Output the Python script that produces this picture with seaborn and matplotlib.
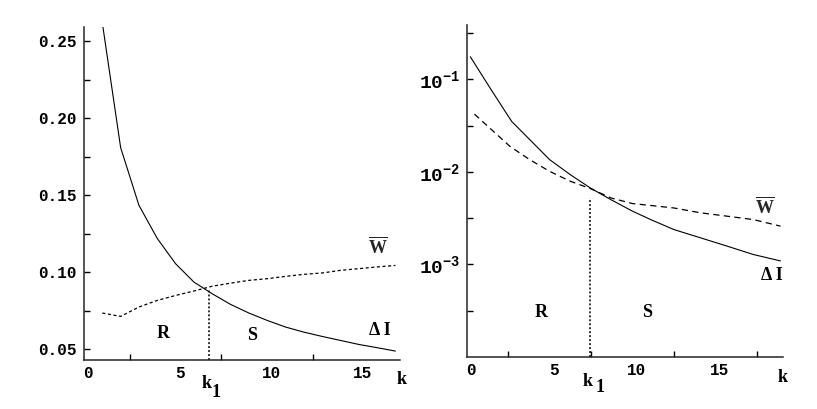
import matplotlib
matplotlib.use("Agg")
from matplotlib import pyplot as plt
from matplotlib.ticker import FixedLocator, NullFormatter
import matplotlib.transforms as mtransforms
import seaborn as sns

# left panel: linear scale
k_left = [1, 2, 3, 4, 5, 6, 7, 8, 9, 10, 11, 12, 13, 14, 15, 16, 17]
dI_left = [0.262, 0.181, 0.1435, 0.122, 0.1056, 0.0937, 0.0861, 0.0792, 0.0736,
           0.0688, 0.0645, 0.0612, 0.0584, 0.0558, 0.0532, 0.0511, 0.0489]
W_left = [0.0736, 0.0714, 0.0775, 0.0818, 0.085, 0.0879, 0.091, 0.093, 0.0948,
          0.0959, 0.0974, 0.0987, 0.0996, 0.1013, 0.1024, 0.1035, 0.1045]
k1_left = 6.85
k1_left_top = 0.089

# right panel: log scale
k_right_dI = [0.2, 1.4, 2.7, 3.8, 5.0, 6.25, 7.45, 8.7, 10.0, 11.1, 12.5, 14.1, 15.7, 17.3, 18.95]
dI_right = [0.175, 0.080, 0.035, 0.0222, 0.0135, 0.0093, 0.0067, 0.0050, 0.00376,
            0.00305, 0.00238, 0.00194, 0.00158, 0.00128, 0.00109]
k_right_W = [0.45, 1.6, 2.6, 3.8, 5.0, 6.25, 7.45, 8.7, 10.0, 11.1, 12.5, 14.1, 15.7, 17.3, 18.95]
W_right = [0.0420, 0.0273, 0.0188, 0.0135, 0.0101, 0.0079, 0.0066, 0.00522, 0.00454,
           0.00433, 0.00407, 0.00361, 0.00332, 0.00305, 0.00259]
k1_right = 7.45
k1_right_top = 0.0052

x_labels = ["0", "5", "10", "15"]
y_left_labels = ["0.05", "0.10", "0.15", "0.20", "0.25"]
y_right_labels = [r"$\mathtt{10^{-1}}$", r"$\mathtt{10^{-2}}$", r"$\mathtt{10^{-3}}$"]

sns.set_style("ticks")
plt.rcParams.update({
    "mathtext.fontset": "custom",
    "mathtext.rm": "Liberation Serif",
    "mathtext.bf": "Liberation Serif:bold",
    "mathtext.tt": "Liberation Mono:bold",
    "axes.linewidth": 1.1,
})

fig = plt.figure(figsize=(8.17, 4.09), dpi=100)
ax1 = fig.add_axes([84 / 817, 49 / 409, (400 - 84) / 817, (360 - 27) / 409])
ax2 = fig.add_axes([467 / 817, 52 / 409, (783 - 467) / 817, (357 - 25) / 409])

tick_font = dict(family="Liberation Mono", weight="bold", size=11.5)
lab_font = dict(family="Liberation Serif", weight="bold", size=13, color="black")
wbar = r"$\overline{\mathbf{W}}$"
dots = (0, (1.3, 1.3))

# ---- left
sns.lineplot(x=k_left, y=dI_left, ax=ax1, color="black", lw=0.8)
sns.lineplot(x=k_left, y=W_left, ax=ax1, color="black", lw=0.9, linestyle=(0, (2.5, 2)))
ax1.plot([k1_left, k1_left], [0.0431, k1_left_top], color="black", lw=1.1, linestyle=dots)
ax1.set_xlim(0, 17.25)
ax1.set_ylim(0.0431, 0.2593)
ax1.set_xticks([0, 5, 10, 15])
ax1.set_xticklabels(x_labels, **tick_font)
ax1.xaxis.set_minor_locator(FixedLocator([2.5, 7.5, 12.5]))
ax1.set_yticks([0.05, 0.10, 0.15, 0.20, 0.25])
ax1.set_yticklabels(y_left_labels, **tick_font)
ax1.yaxis.set_minor_locator(FixedLocator([0.075, 0.125, 0.175, 0.225]))
ax1.text(4.31, 0.0602, "R", ha="center", va="center", **lab_font)
ax1.text(9.16, 0.0591, "S", ha="center", va="center", **lab_font)
ax1.text(16.13, 0.0623, "Δ I", ha="center", va="center", **lab_font)
ax1.text(16.04, 0.1164, wbar, ha="center", va="center", size=13)
ax1.text(17.35, -0.060, "k", transform=ax1.get_xaxis_transform(), ha="center", va="center", **lab_font)
ax1.text(6.67, -0.072, "k", transform=ax1.get_xaxis_transform(), ha="center", va="center", **lab_font)
ax1.text(7.2, -0.099, "1", transform=ax1.get_xaxis_transform(), ha="center", va="center", **lab_font)

# ---- right
sns.lineplot(x=k_right_dI, y=dI_right, ax=ax2, color="black", lw=0.8)
sns.lineplot(x=k_right_W, y=W_right, ax=ax2, color="black", lw=0.9, linestyle=(0, (5, 3.5)))
ax2.set_yscale("log")
ax2.plot([k1_right, k1_right], [1e-4, k1_right_top], color="black", lw=1.1, linestyle=dots)
ax2.set_xlim(0, 19.1)
ax2.set_ylim(1e-4, 0.385)
ax2.set_xticks([0, 5, 10, 15])
ax2.set_xticklabels(x_labels, **tick_font)
ax2.xaxis.set_minor_locator(FixedLocator([2.5, 7.5, 12.5, 17.5]))
ax2.yaxis.set_major_locator(FixedLocator([1e-1, 1e-2, 1e-3]))
ax2.set_yticklabels(y_right_labels, size=14)
ax2.yaxis.set_minor_locator(FixedLocator([10 ** -0.5, 10 ** -1.5, 10 ** -2.5, 10 ** -3.5]))
ax2.yaxis.set_minor_formatter(NullFormatter())
ax2.text(18.04, 0.00418, wbar, ha="center", va="center", size=13)
ax2.text(18.45, 7.5e-4, "Δ I", ha="center", va="center", **lab_font)
ax2.text(4.5, 3.0e-4, "R", ha="center", va="center", **lab_font)
ax2.text(10.89, 3.0e-4, "S", ha="center", va="center", **lab_font)
ax2.text(19.05, -0.063, "k", transform=ax2.get_xaxis_transform(), ha="center", va="center", **lab_font)
ax2.text(7.26, -0.075, "k", transform=ax2.get_xaxis_transform(), ha="center", va="center", **lab_font)
ax2.text(8.06, -0.093, "1", transform=ax2.get_xaxis_transform(), ha="center", va="center", **lab_font)

shift = mtransforms.ScaledTranslation(0.04, 0, fig.dpi_scale_trans)
for ax in (ax1, ax2):
    sns.despine(ax=ax)
    ax.tick_params(axis="both", which="both", direction="in", width=1, colors="black")
    ax.tick_params(axis="x", which="major", length=0, pad=4)
    ax.tick_params(axis="x", which="minor", length=4)
    ax.tick_params(axis="y", which="both", length=4, pad=5)
    for lab in ax.get_xticklabels():
        lab.set_transform(lab.get_transform() + shift)

fig.savefig("out.png", dpi=100, facecolor="white")
